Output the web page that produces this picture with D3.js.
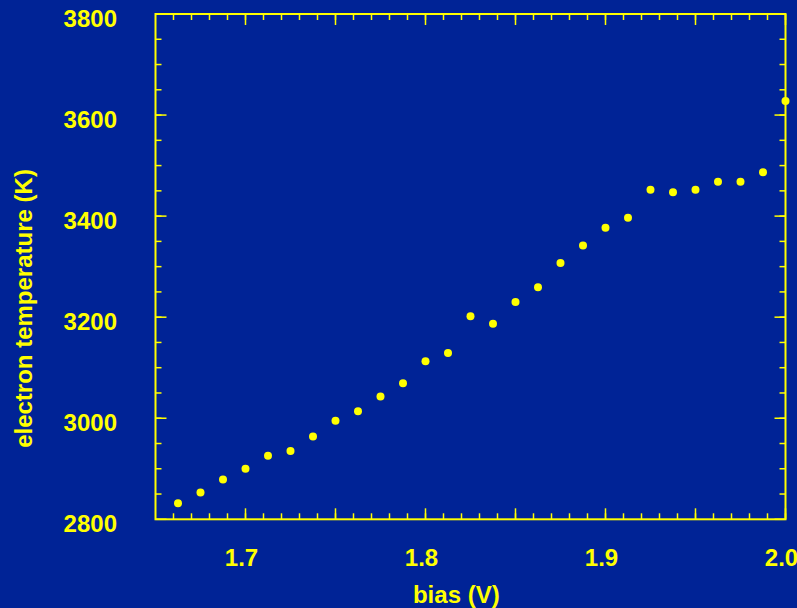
<!DOCTYPE html>
<html>
<head>
<meta charset="utf-8">
<script src="https://cdn.jsdelivr.net/npm/d3@7"></script>
<style>
  body { margin: 0; background: #002396; }
  text { font-family: "Liberation Sans", Arial, sans-serif; font-weight: bold; fill: #ffff00; }
</style>
</head>
<body>
<div class="chart"></div>
<script>
var svgWidth = 797;
var svgHeight = 608;

// bias (V) and electron temperature (K)
var bias = [1.6625, 1.675, 1.6875, 1.7, 1.7125, 1.725, 1.7375, 1.75, 1.7625, 1.775,
  1.7875, 1.8, 1.8125, 1.825, 1.8375, 1.85, 1.8625, 1.875, 1.8875, 1.9,
  1.9125, 1.925, 1.9375, 1.95, 1.9625, 1.975, 1.9875, 2.0];
var temperature = [2832, 2853, 2879, 2900, 2926, 2935, 2964, 2995, 3014, 3043,
  3069, 3113, 3129, 3202, 3187, 3230, 3259, 3307, 3342, 3377,
  3397, 3452, 3447, 3452, 3468, 3468, 3487, 3628];

var xTickLabels = [1.7, 1.8, 1.9, 2.0];
var yTickLabels = [2800, 3000, 3200, 3400, 3600, 3800];

var margin = { top: 14, right: 11.5, bottom: 88.7, left: 155.5 };
var width = svgWidth - margin.left - margin.right;
var height = svgHeight - margin.top - margin.bottom;

var yellow = "#ffff00";

var svg = d3.select(".chart")
  .append("svg")
  .attr("width", svgWidth)
  .attr("height", svgHeight)
  .style("display", "block");

svg.append("rect")
  .attr("width", svgWidth)
  .attr("height", svgHeight)
  .attr("fill", "#002396");

var chartGroup = svg.append("g")
  .attr("transform", `translate(${margin.left}, ${margin.top})`);

var xScale = d3.scaleLinear().domain([1.65, 2.0]).range([0, width]);
var yScale = d3.scaleLinear().domain([2800, 3800]).range([height, 0]);

// minor / major ticks, all pointing inward on the four sides
var xMinor = d3.range(1.66, 2.0, 0.01).map(d => +d.toFixed(2));
var xMajor = d3.range(1.7, 2.0, 0.05).map(d => +d.toFixed(2));
var yMinor = d3.range(2850, 3800, 50);
var yMajor = d3.range(3000, 3800, 200);

function tickGroup(ticks, horizontal, atStart, len) {
  chartGroup.append("g")
    .selectAll("line")
    .data(ticks)
    .enter()
    .append("line")
    .attr("x1", d => horizontal ? xScale(d) : (atStart ? 0 : width))
    .attr("x2", d => horizontal ? xScale(d) : (atStart ? len : width - len))
    .attr("y1", d => horizontal ? (atStart ? height : 0) : yScale(d))
    .attr("y2", d => horizontal ? (atStart ? height - len : len) : yScale(d))
    .attr("stroke", yellow)
    .attr("stroke-width", 1.5);
}

tickGroup(xMinor, true, true, 6);
tickGroup(xMinor, true, false, 6);
tickGroup(xMajor, true, true, 11);
tickGroup(xMajor, true, false, 11);
tickGroup(yMinor, false, true, 6);
tickGroup(yMinor, false, false, 6);
tickGroup(yMajor.concat([2800, 3800]), false, true, 11);
tickGroup(yMajor.concat([2800, 3800]), false, false, 11);

// frame
chartGroup.append("rect")
  .attr("width", width)
  .attr("height", height)
  .attr("fill", "none")
  .attr("stroke", yellow)
  .attr("stroke-width", 2);

// tick labels
chartGroup.append("g")
  .selectAll("text")
  .data(xTickLabels)
  .enter()
  .append("text")
  .attr("x", d => xScale(d) - 4)
  .attr("y", height + 47)
  .attr("text-anchor", "middle")
  .style("font-size", "24px")
  .text(d => d.toFixed(1));

chartGroup.append("g")
  .selectAll("text")
  .data(yTickLabels)
  .enter()
  .append("text")
  .attr("x", -38.5)
  .attr("y", d => yScale(d) + 13)
  .attr("text-anchor", "end")
  .style("font-size", "24px")
  .text(d => d);

// points
chartGroup.append("g")
  .selectAll("circle")
  .data(bias)
  .enter()
  .append("circle")
  .attr("cx", d => xScale(d))
  .attr("cy", (d, i) => yScale(temperature[i]))
  .attr("r", 4)
  .attr("fill", yellow);

// axis titles
svg.append("text")
  .attr("x", 456.3)
  .attr("y", 603)
  .attr("text-anchor", "middle")
  .style("font-size", "24px")
  .text("bias (V)");

svg.append("text")
  .attr("transform", "translate(32, 308.5) rotate(-90)")
  .attr("text-anchor", "middle")
  .style("font-size", "24px")
  .text("electron temperature (K)");
</script>
</body>
</html>
